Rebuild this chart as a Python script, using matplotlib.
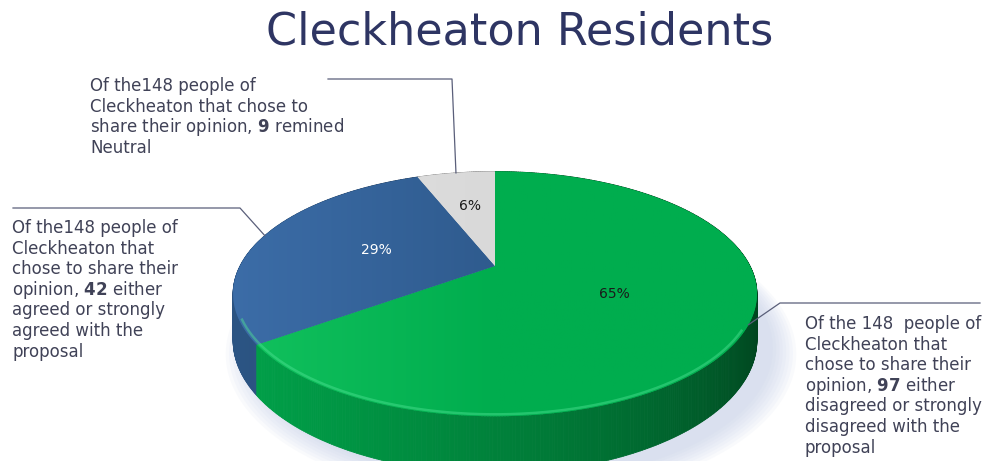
import numpy as np
import matplotlib
matplotlib.use("Agg")
import matplotlib.pyplot as plt
from matplotlib.collections import PolyCollection
from matplotlib.colors import to_rgb, LinearSegmentedColormap

# data
labels = ["Disagreed", "Agreed", "Neutral"]
counts = [97, 42, 9]
pcts = [65, 29, 6]
pct_text = ["65%", "29%", "6%"]
top_cols = ["#00AD4E", "#2F5B8E", "#D9D9D9"]
light_cols = ["#12C25E", "#3C6DA8", "#E2E2E2"]
pct_cols = ["#1A1A1A", "white", "#1A1A1A"]

total = 148
title = "Cleckheaton Residents"
notes = [
    ["Of the 148  people of", "Cleckheaton that", "chose to share their",
     "opinion, $\\mathbf{97}$ either", "disagreed or strongly", "disagreed with the", "proposal"],
    ["Of the148 people of", "Cleckheaton that", "chose to share their",
     "opinion, $\\mathbf{42}$ either", "agreed or strongly", "agreed with the", "proposal"],
    ["Of the148 people of", "Cleckheaton that chose to",
     "share their opinion, $\\mathbf{9}$ remined", "Neutral"],
]

fam = "DejaVu Sans"
plt.rcParams['font.family'] = [fam]
plt.rcParams['mathtext.fontset'] = 'custom'
plt.rcParams['mathtext.rm'] = fam
plt.rcParams['mathtext.bf'] = fam + ':bold'

# fake 3d geometry (pixels)
cx, cy = 495, 266
Rx, Ry = 255, 116
k = 0.228
H = 44


def proj(r, t, drop=0.0):
    t = np.radians(t)
    u = r * np.cos(t)
    v = r * np.sin(t)
    w = 1 + k * v
    return cx + Rx * u / w, cy - Ry * v / w + drop / w


fig = plt.figure(figsize=(9.85, 4.61), dpi=100)
ax = fig.add_axes([0, 0, 1, 1])
ax.set_xlim(0, 985)
ax.set_ylim(461, 0)
ax.axis('off')

# slice angles, clockwise from 12 o'clock
edges = [90.0]
for p in pcts:
    edges.append(edges[-1] - p / sum(pcts) * 360)


def slice_of(t):
    t = (t - 90) % 360 - 360 + 90
    for i in range(len(pcts)):
        if edges[i + 1] <= t <= edges[i]:
            return i
    return len(pcts) - 1


# soft shadow
ts = np.linspace(0, 360, 361)
for j in range(8):
    sx, sy = proj(1.0 + 0.012 * j, ts, H + 4)
    ax.fill(sx + 16, sy + 4, color="#B8C4E4", alpha=0.08, lw=0, zorder=1)

# side wall
polys, cols, depth = [], [], []
step = 0.5
for t in np.arange(0, 360, step):
    t2 = t + step
    x1, y1 = proj(1, t)
    x2, y2 = proj(1, t2)
    x3, y3 = proj(1, t2, H)
    x4, y4 = proj(1, t, H)
    i = slice_of(t + step / 2)
    f = 0.62 + 0.3 * np.cos(np.radians(t - 205))
    c = np.clip(np.array(to_rgb(top_cols[i])) * f, 0, 1)
    polys.append([(x1, y1), (x2, y2), (x3, y3), (x4, y4)])
    cols.append(c)
    depth.append(np.sin(np.radians(t)))
order = np.argsort(depth)[::-1]
pc = PolyCollection([polys[o] for o in order], facecolors=[cols[o] for o in order],
                    edgecolors=[cols[o] for o in order], linewidths=0.6, zorder=2)
ax.add_collection(pc)

# top faces with a soft left-to-right gradient
grad = np.linspace(0, 1, 256).reshape(1, -1)
for i in range(len(pcts)):
    tt = np.linspace(edges[i], edges[i + 1], 200)
    px, py = proj(1, tt)
    face, = ax.fill(np.r_[cx, px], np.r_[cy, py], color=top_cols[i], lw=0, zorder=3)
    cm = LinearSegmentedColormap.from_list("g%d" % i, [light_cols[i], top_cols[i], top_cols[i]])
    im = ax.imshow(grad, cmap=cm, extent=[cx - Rx * 1.05, cx + Rx * 1.05, 420, 160],
                   aspect='auto', zorder=3.1)
    im.set_clip_path(face)

# rim highlight on front
tt = np.linspace(205, 330, 200)
hx, hy = proj(0.99, tt)
ax.plot(hx, hy, color="#4FE394", lw=1.8, alpha=0.45, zorder=4)

# percentage labels
for i in range(len(pcts)):
    mid = (edges[i] + edges[i + 1]) / 2
    lx, ly = proj(0.5 if i < 2 else 0.6, mid)
    ax.text(lx, ly, pct_text[i], ha='center', va='center', fontsize=10,
            color=pct_cols[i], zorder=5)

# leader lines + notes
line_col = "#5A5F7A"
txt_col = "#404257"
elbows = [[(780, 303), (980, 303)], [(240, 208), (13, 208)], [(452, 79), (328, 79)]]
for i in range(len(pcts)):
    mid = (edges[i] + edges[i + 1]) / 2
    ex, ey = proj(1, mid)
    xs = [ex] + [p[0] for p in elbows[i]]
    ys = [ey] + [p[1] for p in elbows[i]]
    ax.plot(xs, ys, color=line_col, lw=0.9, zorder=5)

note_pos = [(805, 324), (12, 228), (90, 86)]
for i in range(len(notes)):
    x0, y0 = note_pos[i]
    for j, line in enumerate(notes[i]):
        ax.text(x0, y0 + j * 20.6 + 5, line, ha='left', va='baseline', fontsize=12,
                color=txt_col)

ax.text(520, 32, title, ha='center', va='center', fontsize=32, color="#2E3563")

fig.savefig("out.png", dpi=100)
